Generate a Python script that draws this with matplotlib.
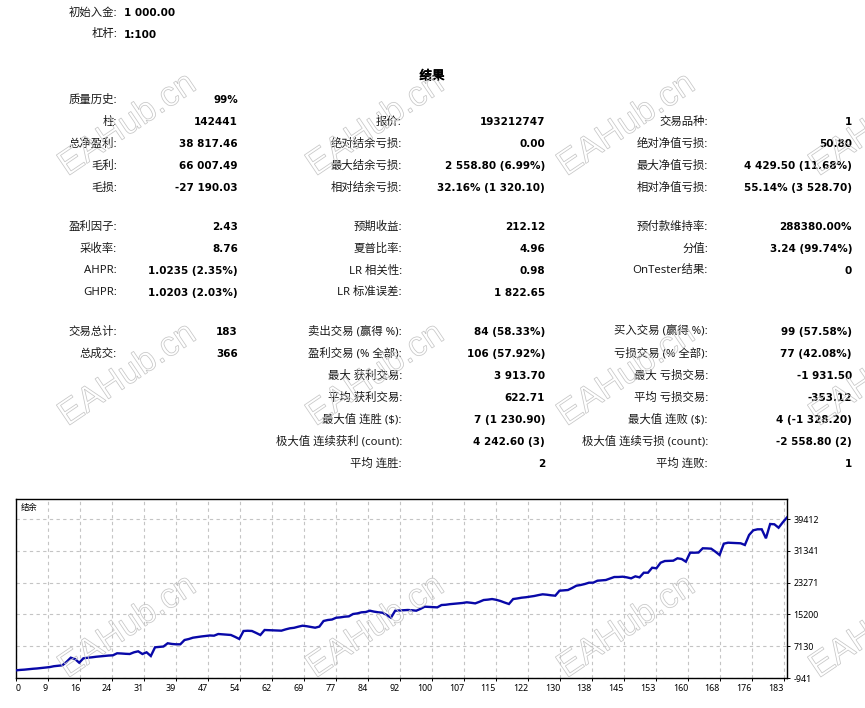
import numpy as np
import matplotlib
matplotlib.use('Agg')
import matplotlib.pyplot as plt
import matplotlib.patheffects as pe
from matplotlib.textpath import TextPath
from matplotlib.patches import PathPatch
from matplotlib.font_manager import FontProperties
from matplotlib.transforms import Affine2D

# ---- report values ----
header_labels = ["初始入金:", "杠杆:"]
header_values = ["1 000.00", "1:100"]

col1_labels = ["质量历史:", "柱:", "总净盈利:", "毛利:", "毛损:",
               "盈利因子:", "采收率:", "AHPR:", "GHPR:",
               "交易总计:", "总成交:", "", "", "", "", ""]
col1_values = ["99%", "142441", "38 817.46", "66 007.49", "-27 190.03",
               "2.43", "8.76", "1.0235 (2.35%)", "1.0203 (2.03%)",
               "183", "366", "", "", "", "", ""]

col2_labels = ["", "报价:", "绝对结余亏损:", "最大结余亏损:", "相对结余亏损:",
               "预期收益:", "夏普比率:", "LR 相关性:", "LR 标准误差:",
               "卖出交易 (赢得 %):", "盈利交易 (% 全部):", "最大 获利交易:",
               "平均 获利交易:", "最大值 连胜 ($):", "极大值 连续获利 (count):", "平均 连胜:"]
col2_values = ["", "193212747", "0.00", "2 558.80 (6.99%)", "32.16% (1 320.10)",
               "212.12", "4.96", "0.98", "1 822.65",
               "84 (58.33%)", "106 (57.92%)", "3 913.70",
               "622.71", "7 (1 230.90)", "4 242.60 (3)", "2"]

col3_labels = ["", "交易品种:", "绝对净值亏损:", "最大净值亏损:", "相对净值亏损:",
               "预付款维持率:", "分值:", "OnTester结果:", "",
               "买入交易 (赢得 %):", "亏损交易 (% 全部):", "最大 亏损交易:",
               "平均 亏损交易:", "最大值 连败 ($):", "极大值 连续亏损 (count):", "平均 连败:"]
col3_values = ["", "1", "50.80", "4 429.50 (11.68%)", "55.14% (3 528.70)",
               "288380.00%", "3.24 (99.74%)", "0", "",
               "99 (57.58%)", "77 (42.08%)", "-1 931.50",
               "-353.12", "4 (-1 328.20)", "-2 558.80 (2)", "1"]

# balance after each trade
balance = [
    1000, 1110, 1180, 1290, 1400, 1480, 1590, 1700, 1830, 2050,
    2170, 2280, 3150, 4210, 3880, 2940, 4060, 4200, 4310, 4450,
    4560, 4650, 4760, 4820, 5330, 5280, 5200, 5150, 5580, 5835,
    5150, 5580, 4640, 6850, 6950, 7050, 7870, 7700, 7610, 7610,
    8700, 8950, 9290, 9450, 9600, 9720, 9850, 9800, 10225, 10150,
    10050, 9980, 9500, 8960, 10990, 11050, 10990, 10500, 9970, 11240,
    11200, 11150, 11100, 11070, 11400, 11670, 11800, 12080, 12330, 12200,
    12000, 11825, 12100, 13530, 13780, 13900, 14360, 14450, 14620, 14700,
    15300, 15450, 15730, 15800, 16140, 15900, 15730, 15630, 15050, 14360,
    16140, 16200, 16250, 16320, 16250, 16140, 16600, 17155, 17100, 17050,
    16990, 17580, 17650, 17800, 17900, 18000, 18100, 18270, 18150, 18000,
    18400, 18850, 18950, 19100, 18900, 18600, 18200, 17840, 19100, 19250,
    19440, 19550, 19700, 19870, 20100, 20300, 20200, 20050, 19950, 21215,
    21300, 21390, 21900, 22480, 22660, 22910, 23250, 23250, 23750, 23850,
    23930, 24300, 24690, 24700, 24770, 24600, 24350, 24860, 24600, 25780,
    25780, 27050, 26900, 28320, 28750, 28780, 28830, 29440, 29260, 28580,
    30860, 30860, 30900, 31980, 31950, 31880, 31120, 30280, 33150, 33400,
    33350, 33300, 33250, 32820, 35350, 36550, 36800, 36800, 34520, 38145,
    38070, 37200, 38570, 39817,
]
x_tick_labels = ["9", "16", "24", "31", "39", "47", "54", "62", "69", "77", "84", "92",
                 "100", "107", "115", "122", "130", "138", "145", "153", "160", "168",
                 "176", "183"]
y_tick_values = [-941, 7130, 15200, 23271, 31341, 39412]
y_top = 44490

W, H = 865, 708
fig = plt.figure(figsize=(W / 100, H / 100), dpi=100)
fig.patch.set_facecolor('white')

FONT = ['Noto Sans', 'Noto Sans CJK SC']
FS = 8.2


def fx(x):
    return x / W


def fy(y):
    return 1 - y / H


def label(x, y, s):
    if s:
        fig.text(fx(x), fy(y), s, ha='right', va='center', fontsize=FS,
                 family=FONT, color='#1a1a1a')


def value(x, y, s, ha='right'):
    if s:
        fig.text(fx(x), fy(y), s, ha=ha, va='center', fontsize=7.5,
                 family='DejaVu Sans', fontweight='bold', color='black')


# header block
for i, (lab, val) in enumerate(zip(header_labels, header_values)):
    label(117, 13 + 22 * i, lab)
    value(124, 13 + 22 * i, val, ha='left')

fig.text(fx(432), fy(76), "结果", ha='center', va='center', fontsize=9,
         family=FONT, color='black',
         path_effects=[pe.withStroke(linewidth=0.6, foreground='black')])

row_y = [100, 122, 144, 166, 188, 227, 249, 271, 293,
         332, 354, 376, 398, 420, 442, 464]
for i, y in enumerate(row_y):
    label(117, y, col1_labels[i])
    value(238, y, col1_values[i])
    label(402, y, col2_labels[i])
    value(545, y, col2_values[i])
    label(708, y, col3_labels[i])
    value(852, y, col3_values[i])

# balance graph
ax = fig.add_axes([16 / W, (H - 678) / H, 771 / W, 179 / H])
n = len(balance) - 1
ax.plot(np.arange(len(balance)), balance, color='#0808a8', linewidth=1.7,
        solid_joinstyle='miter', zorder=3)
ax.set_xlim(0, n)
ax.set_ylim(y_tick_values[0], y_top)

# vertical grid every 32 px starting 32 px from the left edge
xt = [n * (32 + 32 * k) / 771 for k in range(len(x_tick_labels))]
ax.set_xticks([0] + xt)
ax.set_xticklabels(["0"] + x_tick_labels)
for k, t in enumerate(ax.get_xticklabels()):
    t.set_horizontalalignment('left' if k == 0 else 'right')
ax.set_yticks(y_tick_values)
ax.set_yticklabels([str(v) for v in y_tick_values])
ax.yaxis.tick_right()
ax.tick_params(axis='both', labelsize=6.4, length=2.5, width=0.7,
               color='black', labelcolor='black', pad=2)
for t in ax.get_xticklabels() + ax.get_yticklabels():
    t.set_family(FONT)
ax.grid(True, color='#c4c4c4', linestyle=(0, (3, 3)), linewidth=0.8, zorder=1)
for s in ax.spines.values():
    s.set_linewidth(1.0)
    s.set_color('black')
ax.text(0.006, 0.955, "结余", transform=ax.transAxes, ha='left', va='center',
        fontsize=6, family=FONT, color='black')

# EAHub.cn watermark outlines
wm_font = FontProperties(family='Liberation Sans')
tp = TextPath((0, 0), "EAHub.cn", size=35, prop=wm_font)
ext = tp.get_extents()
cx, cy = (ext.x0 + ext.x1) / 2, (ext.y0 + ext.y1) / 2
for wy in [122, 372, 624]:
    for wx in [126, 374, 625, 877]:
        tr = (Affine2D().translate(-cx, -cy).rotate_deg(34)
              .translate(wx, H - wy).scale(1 / 100) + fig.dpi_scale_trans)
        patch = PathPatch(tp, transform=tr, facecolor='none',
                          edgecolor='#c6c6c6', linewidth=0.55, zorder=10)
        fig.add_artist(patch)

fig.savefig('out.png', dpi=100, facecolor='white')
